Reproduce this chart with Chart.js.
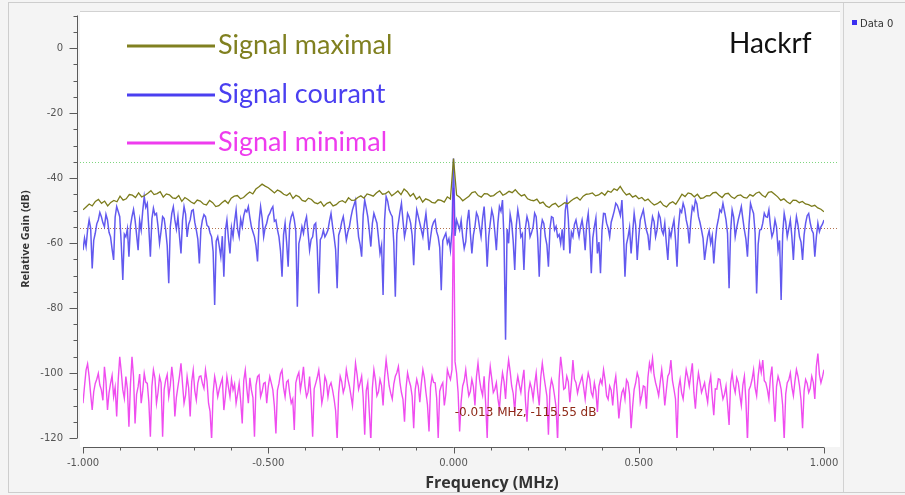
<!DOCTYPE html>
<html><head><meta charset="utf-8">
<script src="https://cdn.jsdelivr.net/npm/chart.js@4.4.1/dist/chart.umd.min.js"></script>
<style>html,body{margin:0;padding:0;background:#f4f4f4;overflow:hidden}canvas{display:block}</style>
</head><body>
<div style="width:905px;height:495px;position:relative"><canvas id="c" width="905" height="495"></canvas></div>
<script>
const freqMin = -1, freqMax = 1;
const xTickValues = [-1, -0.5, 0, 0.5, 1];
const yTickValues = [0, -20, -40, -60, -80, -100, -120];
const seriesNames = ['Signal maximal', 'Signal courant', 'Signal minimal'];
const peakLevel = -35.1;
const refLevel = -55.5;
const markerFreq = -0.013, markerDb = -115.55;

const signalMaximal = [
-49.8,-48.9,-48.0,-48.6,-47.2,-46.6,-47.8,-47.1,-48.6,-47.5,-46.9,-47.3,-45.6,-46.8,-46.4,-45.1,-45.3,-46.0,-44.6,-45.8,
-45.4,-44.7,-43.9,-45.1,-44.8,-44.2,-45.9,-44.9,-45.2,-46.1,-46.3,-45.4,-47.2,-46.0,-46.6,-47.4,-47.9,-46.8,-47.1,-48.0,
-48.3,-46.9,-47.6,-48.8,-48.5,-47.6,-46.9,-47.8,-46.2,-45.6,-45.4,-46.4,-46.0,-45.1,-44.3,-44.9,-43.4,-42.7,-41.9,-42.5,
-43.0,-43.8,-44.6,-43.7,-44.2,-45.0,-45.4,-44.6,-46.3,-45.3,-45.8,-46.9,-47.2,-46.2,-46.6,-47.6,-47.9,-47.3,-48.7,-47.8,
-47.4,-48.6,-48.2,-47.3,-47.0,-47.6,-46.1,-46.9,-46.8,-46.0,-45.5,-46.2,-44.9,-45.2,-45.6,-44.6,-43.9,-45.0,-44.8,-44.1,
-45.5,-44.8,-44.0,-45.1,-43.4,-44.2,-45.6,-44.8,-46.5,-45.7,-47.4,-46.4,-46.8,-47.5,-47.7,-46.7,-46.9,-47.4,-45.8,-46.5,
-34.0,
-45.2,-45.9,-47.0,-46.3,-45.6,-44.5,-44.2,-45.4,-45.9,-44.8,-44.9,-45.6,-45.4,-44.6,-44.0,-45.3,-44.8,-44.1,-44.5,-43.6,
-44.7,-45.5,-45.1,-46.4,-46.8,-47.0,-46.5,-47.8,-47.4,-48.6,-49.1,-48.2,-47.8,-48.9,-48.3,-47.6,-47.9,-47.1,-46.4,-45.9,
-46.8,-45.6,-45.0,-44.9,-44.6,-45.5,-45.2,-44.5,-45.3,-44.0,-44.4,-43.3,-43.8,-42.6,-44.1,-45.2,-44.8,-45.9,-45.4,-46.4,
-46.0,-47.0,-46.5,-47.5,-48.3,-47.9,-47.2,-48.4,-48.9,-47.8,-47.3,-48.1,-46.6,-45.0,-45.7,-44.6,-44.9,-45.8,-45.0,-46.3,
-46.1,-45.4,-45.5,-44.6,-44.4,-45.3,-46.0,-44.9,-44.7,-45.8,-46.3,-45.4,-45.2,-46.0,-46.2,-45.1,-45.6,-44.7,-44.3,-45.3,
-45.9,-44.4,-44.2,-45.0,-45.8,-46.9,-46.4,-47.3,-47.9,-46.8,-46.9,-47.6,-47.2,-48.0,-48.2,-48.7,-48.4,-49.2,-49.6,-50.4];

const signalCourant = [
-62.2,-58.5,-61.1,-56.0,-52.9,-55.4,-67.8,-59.2,-57.0,-54.1,-52.9,-50.6,-51.9,-53.8,-55.0,-51.2,-52.9,-56.7,-58.1,-61.9,
-65.2,-52.0,-48.8,-50.3,-51.9,-60.4,-71.4,-57.3,-58.1,-55.6,-64.2,-54.8,-51.9,-49.7,-52.9,-57.4,-62.2,-53.1,-56.0,-50.2,
-45.7,-49.0,-47.8,-55.5,-64.2,-52.6,-49.3,-51.4,-50.9,-54.9,-60.1,-56.3,-51.9,-52.5,-56.0,-60.8,-72.4,-55.1,-50.9,-48.9,
-52.9,-55.7,-51.9,-57.8,-63.2,-53.0,-48.8,-51.1,-58.1,-54.3,-52.9,-50.1,-49.8,-53.6,-56.0,-58.8,-66.3,-55.9,-52.9,-51.3,
-51.9,-54.6,-55.0,-56.9,-58.1,-62.7,-79.1,-59.4,-58.1,-61.0,-64.2,-57.9,-70.4,-56.2,-52.9,-58.6,-63.2,-55.3,-58.1,-53.4,
-49.8,-55.8,-58.1,-52.7,-55.0,-51.6,-49.8,-50.4,-48.8,-52.2,-55.0,-56.6,-58.1,-60.9,-65.7,-53.5,-48.8,-52.3,-58.1,-55.2,
-53.9,-51.7,-50.9,-49.6,-48.8,-53.3,-52.9,-55.9,-58.1,-62.4,-70.4,-57.5,-53.9,-59.8,-67.3,-54.4,-51.9,-50.7,-52.9,-56.4,
-79.6,-60.2,-58.1,-55.0,-57.0,-53.7,-51.9,-56.8,-62.2,-58.9,-58.1,-54.5,-53.9,-61.3,-75.5,-59.0,-58.1,-56.1,-58.1,-57.2,
-56.0,-53.2,
-50.9,-54.8,-58.1,-62.0,-73.9,-57.6,-56.0,-53.5,-51.9,-55.3,-59.1,-56.6,-55.0,-52.1,-49.8,-48.3,-46.8,-52.7,-58.1,-60.5,
-64.2,-51.5,-46.8,-49.2,-51.9,-56.2,-61.1,-54.0,-50.9,-52.4,-53.9,-58.4,-63.2,-60.7,-76.0,-52.8,-45.7,-47.1,-49.8,-51.0,
-51.9,-60.0,-76.5,-57.1,-53.9,-50.5,-47.8,-53.1,-58.1,-55.6,-50.9,-52.0,-53.9,-57.7,-66.8,-55.4,-49.8,-51.8,-53.9,-56.0,
-58.1,-54.2,-50.9,-55.9,-62.2,-58.3,-55.0,-53.6,-52.9,-56.5,-58.1,-61.4,-74.5,-59.3,-58.1,-57.0,-60.1,-58.7,-62.2,-56.4,
-34.0,
-57.8,-52.9,-54.4,-56.0,-53.0,-58.1,-61.7,-59.6,-53.3,-49.8,-56.9,-63.2,-57.6,-55.0,-50.7,-51.9,-55.1,-58.1,-52.5,-48.8,
-56.3,-67.3,-58.0,-53.9,-49.9,-51.9,-56.6,-62.2,-53.8,-48.8,-50.2,-46.8,-58.9,-89.8,-55.7,-60.1,-51.2,-53.9,-59.5,-68.3,
-54.7,-49.8,-52.9,-58.1,-57.2,-68.3,-55.3,-51.9,-53.7,-58.1,-56.8,-55.0,-50.8,-51.9,-58.5,-70.4,-56.1,-52.9,-54.0,-58.1,
-60.6,-67.3,-55.5,-51.9,-52.2,-56.0,-54.9,-58.1,-57.4,-60.1,-55.8,-62.2,-50.0,-46.8,-52.6,-63.2,-56.7,-58.1,-54.3,-52.9,
-55.6,-58.1,-55.0,-52.9,-56.3,-62.2,-54.1,-50.9,-57.9,-69.3,-58.4,-55.0,-52.3,-63.2,-59.7,-69.3,-56.0,-50.9,-51.0,-53.9,
-55.4,-58.1,-53.6,-51.9,-50.1,-47.8,-48.4,-49.8,-51.5,-46.8,-56.5,-70.4,-60.3,-58.1,-55.2,-63.2,-57.0,-50.9,-54.6,-65.2,
-58.2,-52.9,-51.3,-49.8,-53.1,-56.0,-57.6,-62.2,-55.7,-51.9,-53.4,-58.1,-55.9,-50.9,-52.2,-56.0,-57.3,-53.9,-59.9,-65.2,
-56.2,-58.1,-55.1,-52.9,-59.0,-67.3,-54.8,-49.8,-50.6,-47.8,-49.4,-52.9,-55.0,-60.1,-53.2,-48.8,-49.9,-46.8,-48.0,-51.9,
-53.7,-56.0,-58.6,-65.2,-61.5,-58.1,-56.2,-60.1,-57.8,-66.3,-59.6,-55.0,-52.7,-49.8,-50.5,-47.8,-50.3,-52.9,-57.1,-73.9,
-56.4,-49.8,-52.0,-58.1,-55.3,-52.9,-50.9,-48.8,-52.6,-56.0,-58.8,-64.2,-54.5,-47.8,-49.5,-50.9,-56.9,-75.5,-60.4,-56.0,
-55.8,-53.9,-50.8,-51.9,-52.1,-49.8,-54.7,-58.1,-56.6,-52.9,-55.1,-62.2,-59.2,-77.5,-57.4,-50.9,-53.5,-58.1,-55.6,-52.9,
-58.0,-65.2,-56.3,-51.9,-54.4,-58.1,-59.7,-65.2,-57.5,-53.9,-51.6,-50.9,-53.8,-56.0,-57.0,-64.2,-58.2,-53.9,-56.5,-55.0,
-54.2,-52.9];

const signalMinimal = [
-109.3,-104.0,-99.1,-97.2,-101.1,-106.5,-111.4,-105.8,-103.2,-101.9,-100.1,-103.7,-105.2,-108.4,-98.1,-102.6,-111.4,-106.1,-103.2,-100.8,
-107.3,-104.4,-113.4,-102.1,-95.0,-99.6,-105.2,-107.8,-101.1,-104.9,-116.5,-103.5,-95.0,-101.2,-115.5,-106.6,-104.2,-100.3,-109.3,-105.5,
-100.1,-102.8,-103.2,-108.9,-119.6,-104.1,-99.1,-101.6,-109.3,-106.0,-101.1,-103.0,-119.6,-105.1,-102.2,-100.5,-107.3,-103.9,-98.1,-102.4,
-113.4,-107.5,-104.2,-101.0,-97.0,-103.3,-109.3,-106.8,-101.1,-104.6,-113.4,-102.7,-99.1,-105.4,-108.3,-103.1,-101.1,-100.9,-103.2,-104.7,
-99.1,-102.5,-109.3,-111.9,-120.6,-106.2,-101.1,-103.6,-107.3,-105.0,-103.2,-101.7,-111.4,-107.1,-101.1,-104.3,-107.3,-102.0,-105.2,-103.4,
-109.3,-106.4,-103.2,-108.7,-115.5,-102.3,-99.1,-104.8,-109.3,-101.5,-105.2,-107.6,-119.6,-103.8,-101.1,-100.6,-107.3,-105.7,-103.2,-102.9,
-109.3,-104.2,-101.1,-103.1,-105.2,-110.2,-118.6,-105.3,-103.2,-100.2,-99.1,-104.5,-107.3,-102.8,-102.2,-106.3,-109.3,-108.0,-117.5,-103.0,
-101.1,-99.8,-105.2,-102.2,-98.1,-104.0,-107.3,-105.9,-101.1,-108.2,-119.6,-104.9,-103.2,-101.4,-99.1,-103.5,-109.3,-106.7,-101.1,-102.6,
-107.3,-104.1,
-103,-105.2,-108,-111.6,-120.5,-106.1,-101,-102.7,-106,-104.3,-99,-101.8,-104,-106.9,-110,-103.6,-97,-100.4,-105,-103.1,
-101,-107.4,-119,-105.5,-103,-112.0,-121,-104.6,-99,-102.1,-107,-105.8,-102,-103.9,-110,-101.2,-96,-100.0,-104,-106.2,
-108,-103.4,-101,-99.9,-98,-102.8,-106,-108.1,-115,-104.7,-100,-102.3,-104,-107.2,-117,-105.1,-102,-104.0,-109,-103.2,
-99,-101.5,-106,-109.8,-118,-104.4,-101,-102.9,-103,-107.7,-120,-105.6,-104,-103.0,-110,-106.4,-99,-100.7,-102,-99.0,
-43,
-96.5,-100,-106.0,-118,-108.8,-104,-102.4,-99,-103.6,-107,-105.7,-102,-104.2,-110,-101.1,-97,-102.0,-105,-106.9,-101,
-109.4,-120,-103.3,-98,-101.8,-106,-105.0,-103,-107.9,-111,-104.5,-100,-102.6,-108,-100.2,-96,-99.5,-104,-106.3,-112,
-104.1,-101,-103.7,-106,-102.2,-99,-108.6,-115,-106.0,-103,-104.8,-108,-103.5,-100,-105.9,-110,-101.3,-97,-100.8,-104,
-107.1,-119,-105.2,-102,-103.9,-107,-110.5,-121,-101.7,-95,-99.3,-105,-104.6,-101,-102.7,-109,-103.2,-96,-101.9,-103,
-106.2,-104,-102.5,-101,-104.4,-108,-103.1,-100,-101.9,-106,-107.3,-103,-105.6,-112,-104.0,-102,-103.4,-99,-102.2,-107,
-108.1,-104,-105.3,-110,-103.8,-101,-106.7,-114,-109.2,-106,-104.9,-108,-102.1,-103,-106.5,-117,-110.3,-105,-103.0,-100,
-101.6,-109,-106.9,-104,-104.3,-111,-101.4,-97,-99.2,-95.5,-100.6,-103,-104.8,-107,-102.9,-99,-103.5,-110,-105.4,-101,
-100.0,-96,-102.3,-105,-108.0,-120.5,-104.7,-102,-106.1,-108,-103.3,-99,-101.2,-104,-100.5,-97,-105.9,-111,-104.2,-100,
-102.8,-106,-104.5,-103,-106.3,-109,-103.6,-101,-107.4,-113,-104.9,-105,-101.8,-102,-105.0,-108,-106.6,-104,-109.7,-116,
-103.1,-100,-104.0,-106,-101.5,-103,-106.8,-110,-103.7,-101,-108.5,-121,-105.2,-104,-102.0,-99,-104.6,-107,-100.9,-97,
-99.8,-96,-102.4,-103,-105.1,-108,-101.3,-98,-107.0,-115,-104.1,-101,-102.7,-105,-109.9,-120.5,-106.4,-103,-102.1,-100,
-104.3,-107,-102.6,-99,-101.0,-104,-108.4,-117,-105.5,-102,-103.2,-106,-104.7,-101,-102.9,-108,-98.0,-94,-100.4,-103,
-101.2,-99];

const colMax = '#808020', colCur = '#4a3ff0', colMin = '#ee3cee';

function toPoints(arr) {
  return arr.map((v, i) => ({ x: freqMin + (freqMax - freqMin) * i / (arr.length - 1), y: v }));
}

Chart.defaults.font.family = '"DejaVu Sans", sans-serif';

const decor = {
  id: 'decor',
  beforeDraw(chart) {
    const { ctx, chartArea: a } = chart;
    ctx.save();
    ctx.fillStyle = '#f4f4f4';
    ctx.fillRect(0, 0, chart.width, chart.height);
    ctx.strokeStyle = '#cdcdcd';
    ctx.lineWidth = 1;
    ctx.strokeRect(8.5, 2.5, 900, 490);
    ctx.fillStyle = '#ffffff';
    ctx.fillRect(a.left - 3, a.top - 3.5, a.right - a.left + 19, a.bottom - a.top + 12.5);
    ctx.strokeStyle = '#d2d2d2';
    ctx.beginPath(); ctx.moveTo(a.left - 3, a.top - 4); ctx.lineTo(a.right + 16, a.top - 4); ctx.stroke();
    ctx.beginPath(); ctx.moveTo(843.5, 3); ctx.lineTo(843.5, 492); ctx.stroke();
    ctx.restore();
  },
  beforeDatasetsDraw(chart) {
    const { ctx, chartArea: a, scales: { y } } = chart;
    ctx.save();
    ctx.lineWidth = 1;
    ctx.setLineDash([1, 2]);
    [[peakLevel, '#7ed67e'], [refLevel, '#b27350']].forEach(([v, c]) => {
      const py = Math.round(y.getPixelForValue(v)) + 0.5;
      ctx.strokeStyle = c;
      ctx.beginPath(); ctx.moveTo(a.left - 3, py); ctx.lineTo(a.right + 14, py); ctx.stroke();
    });
    ctx.restore();
  },
  afterDraw(chart) {
    const { ctx, chartArea: a, scales: { x, y } } = chart;
    ctx.save();
    const ax = a.left - 6 + 0.5;
    ctx.strokeStyle = '#5a5a5a';
    ctx.lineWidth = 1;
    ctx.beginPath(); ctx.moveTo(ax, y.getPixelForValue(10)); ctx.lineTo(ax, y.getPixelForValue(-120)); ctx.stroke();
    for (let v = -120; v <= 10; v += 5) {
      const py = Math.round(y.getPixelForValue(v)) + 0.5;
      const len = (v % 20 === 0) ? 8 : 4;
      ctx.beginPath(); ctx.moveTo(ax - len, py); ctx.lineTo(ax, py); ctx.stroke();
    }
    const ay = a.bottom + 9 + 0.5;
    ctx.beginPath(); ctx.moveTo(x.getPixelForValue(-1), ay); ctx.lineTo(x.getPixelForValue(1), ay); ctx.stroke();
    for (let k = -10; k <= 10; k++) {
      const px = Math.round(x.getPixelForValue(k / 10)) + 0.5;
      const len = (k % 5 === 0) ? 6 : 3;
      ctx.beginPath(); ctx.moveTo(px, ay); ctx.lineTo(px, ay + len); ctx.stroke();
    }
    ctx.fillStyle = '#333333';
    ctx.font = 'bold 16px "Open Sans"';
    ctx.textAlign = 'center';
    ctx.textBaseline = 'alphabetic';
    ctx.fillText('Frequency (MHz)', 492, 488);
    ctx.save();
    ctx.translate(29, 239);
    ctx.rotate(-Math.PI / 2);
    ctx.font = 'bold 11px "Open Sans"';
    ctx.fillText('Relative Gain (dB)', 0, 0);
    ctx.restore();
    const rows = [[colMax, 46, 54], [colCur, 95, 102.5], [colMin, 143, 150.5]];
    ctx.textAlign = 'left';
    rows.forEach(([c, ly, by], i) => {
      ctx.strokeStyle = c; ctx.lineWidth = 3;
      ctx.beginPath(); ctx.moveTo(127, ly); ctx.lineTo(215, ly); ctx.stroke();
      ctx.fillStyle = c;
      ctx.font = '27px Lato';
      ctx.fillText(seriesNames[i], 218, by);
    });
    ctx.fillStyle = '#111111';
    ctx.font = '28px Lato';
    ctx.fillText('Hackrf', 729, 53);
    ctx.fillStyle = '#3a2ff0';
    ctx.fillRect(852, 20, 5, 5);
    ctx.fillStyle = '#333333';
    ctx.font = '10px "DejaVu Sans"';
    ctx.fillText('Data 0', 860, 26.5);
    ctx.fillStyle = '#8e2a18';
    ctx.font = '12px "DejaVu Sans"';
    ctx.fillText('-0.013 MHz, -115.55 dB', x.getPixelForValue(markerFreq) + 6, y.getPixelForValue(markerDb) - 7.5);
    ctx.restore();
  }
};

new Chart(document.getElementById('c'), {
  type: 'line',
  data: {
    datasets: [
      { label: seriesNames[0], data: toPoints(signalMaximal), borderColor: '#7c7c1c', borderWidth: 1.3, order: 0 },
      { label: seriesNames[1], data: toPoints(signalCourant), borderColor: 'rgba(64,52,236,0.82)', borderWidth: 1.5, order: 1 },
      { label: seriesNames[2], data: toPoints(signalMinimal), borderColor: 'rgba(236,46,236,0.85)', borderWidth: 1.4, order: 2 }
    ]
  },
  options: {
    responsive: false,
    animation: false,
    parsing: false,
    elements: { point: { radius: 0 }, line: { tension: 0 } },
    layout: { padding: { top: 15.5, right: 81, bottom: 0, left: 0 } },
    plugins: { legend: { display: false }, tooltip: { enabled: false } },
    scales: {
      x: {
        type: 'linear', min: freqMin, max: freqMax,
        afterBuildTicks: s => { s.ticks = xTickValues.map(v => ({ value: v })); },
        afterFit: s => { s.height = 57; s.paddingLeft = 0; s.paddingRight = 0; },
        grid: { display: false, drawTicks: false },
        border: { display: false },
        ticks: { padding: 19, color: '#555555', font: { size: 10 }, maxRotation: 0, autoSkip: false,
                 callback: v => Number(v).toFixed(3) }
      },
      y: {
        type: 'linear', min: -120, max: 10,
        afterBuildTicks: s => { s.ticks = yTickValues.map(v => ({ value: v })); },
        afterFit: s => { s.width = 83; s.paddingTop = 0; s.paddingBottom = 0; },
        grid: { display: false, drawTicks: false },
        border: { display: false },
        ticks: { padding: 20, color: '#555555', font: { size: 10 }, callback: v => String(v) }
      }
    }
  },
  plugins: [decor]
});
</script>
</body></html>
